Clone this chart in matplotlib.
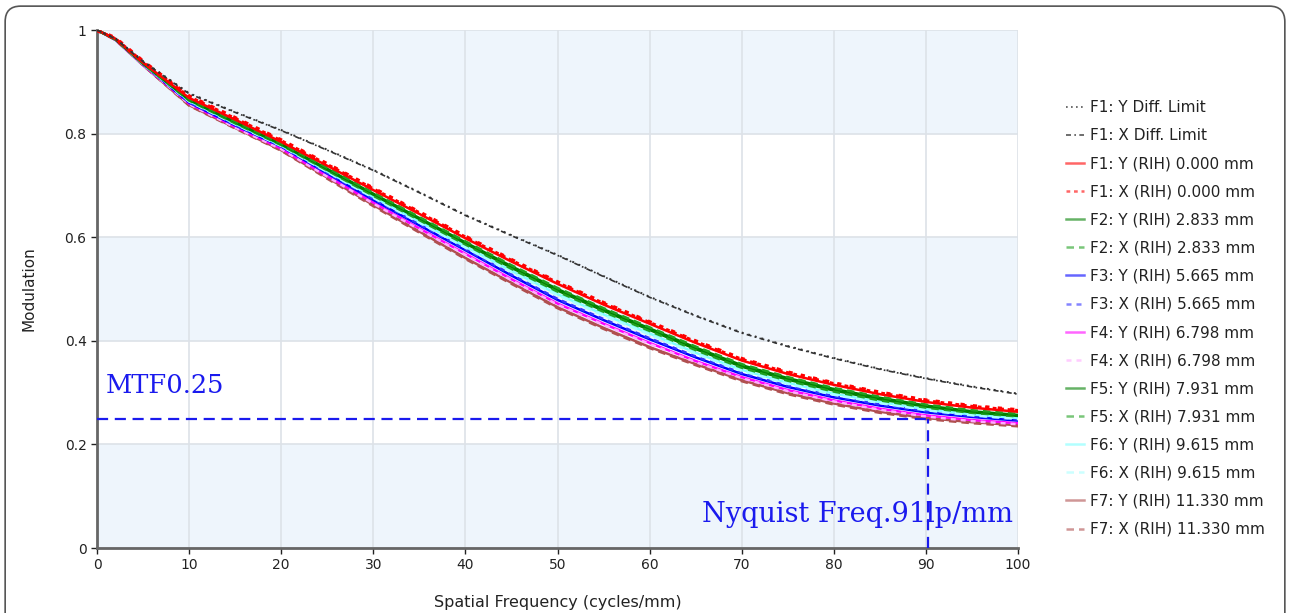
import matplotlib
matplotlib.use("Agg")
import matplotlib.pyplot as plt
from matplotlib.patches import FancyBboxPatch
from matplotlib.lines import Line2D

plt.rcParams["font.family"] = ["DejaVu Sans"]

# spatial frequency samples (cycles/mm)
freq = [0, 2, 5, 10, 15, 20, 25, 30, 35, 40, 45, 50, 55, 60, 65, 70, 75, 80, 85, 90, 95, 100]

diff_y = [1.0, 0.984, 0.940, 0.878, 0.842, 0.807, 0.769, 0.730, 0.687, 0.643, 0.604,
          0.566, 0.525, 0.485, 0.449, 0.416, 0.390, 0.367, 0.346, 0.328, 0.312, 0.298]
diff_x = [1.0, 0.983, 0.939, 0.877, 0.841, 0.806, 0.768, 0.729, 0.686, 0.642, 0.603,
          0.565, 0.524, 0.484, 0.448, 0.415, 0.389, 0.366, 0.345, 0.327, 0.311, 0.297]
f1_y = [1.0, 0.983, 0.937, 0.869, 0.827, 0.784, 0.738, 0.691, 0.645, 0.598, 0.553,
        0.510, 0.470, 0.433, 0.396, 0.362, 0.336, 0.315, 0.297, 0.282, 0.271, 0.263]
f1_x = [1.0, 0.984, 0.939, 0.872, 0.830, 0.787, 0.741, 0.694, 0.648, 0.601, 0.556,
        0.513, 0.473, 0.436, 0.399, 0.365, 0.339, 0.318, 0.300, 0.285, 0.274, 0.266]
f2_y = [1.0, 0.982, 0.936, 0.866, 0.823, 0.780, 0.732, 0.684, 0.637, 0.590, 0.544,
        0.500, 0.461, 0.424, 0.387, 0.353, 0.328, 0.307, 0.290, 0.275, 0.264, 0.257]
f2_x = [1.0, 0.982, 0.936, 0.867, 0.824, 0.781, 0.734, 0.686, 0.639, 0.592, 0.546,
        0.502, 0.463, 0.426, 0.389, 0.355, 0.330, 0.309, 0.292, 0.277, 0.266, 0.259]
f3_y = [1.0, 0.982, 0.934, 0.860, 0.816, 0.775, 0.723, 0.672, 0.623, 0.575, 0.526,
        0.479, 0.440, 0.403, 0.368, 0.336, 0.311, 0.291, 0.275, 0.262, 0.253, 0.246]
f3_x = [1.0, 0.982, 0.934, 0.861, 0.817, 0.776, 0.724, 0.674, 0.625, 0.577, 0.528,
        0.481, 0.442, 0.405, 0.370, 0.338, 0.313, 0.293, 0.277, 0.264, 0.255, 0.248]
f4_y = [1.0, 0.981, 0.933, 0.858, 0.813, 0.771, 0.718, 0.667, 0.617, 0.568, 0.519,
        0.472, 0.433, 0.396, 0.361, 0.330, 0.305, 0.285, 0.269, 0.256, 0.247, 0.241]
f4_x = [1.0, 0.981, 0.933, 0.857, 0.812, 0.770, 0.717, 0.665, 0.615, 0.566, 0.517,
        0.470, 0.431, 0.394, 0.359, 0.328, 0.303, 0.283, 0.267, 0.254, 0.245, 0.239]
f5_y = [1.0, 0.982, 0.935, 0.865, 0.821, 0.779, 0.730, 0.682, 0.635, 0.588, 0.541,
        0.497, 0.458, 0.421, 0.384, 0.350, 0.325, 0.304, 0.287, 0.273, 0.262, 0.255]
f5_x = [1.0, 0.982, 0.935, 0.864, 0.820, 0.778, 0.729, 0.680, 0.633, 0.586, 0.539,
        0.495, 0.456, 0.419, 0.382, 0.348, 0.323, 0.302, 0.285, 0.271, 0.261, 0.254]
f6_y = [1.0, 0.982, 0.935, 0.863, 0.819, 0.777, 0.727, 0.678, 0.630, 0.582, 0.535,
        0.490, 0.451, 0.414, 0.377, 0.344, 0.319, 0.298, 0.282, 0.268, 0.258, 0.251]
f6_x = [1.0, 0.982, 0.934, 0.862, 0.818, 0.776, 0.726, 0.676, 0.628, 0.580, 0.533,
        0.488, 0.449, 0.412, 0.375, 0.342, 0.317, 0.296, 0.280, 0.266, 0.256, 0.249]
f7_y = [1.0, 0.981, 0.932, 0.855, 0.811, 0.768, 0.715, 0.662, 0.611, 0.560, 0.512,
        0.465, 0.425, 0.388, 0.355, 0.324, 0.299, 0.279, 0.263, 0.251, 0.243, 0.237]
f7_x = [1.0, 0.981, 0.932, 0.854, 0.810, 0.767, 0.713, 0.660, 0.609, 0.558, 0.510,
        0.463, 0.423, 0.386, 0.353, 0.322, 0.297, 0.277, 0.261, 0.249, 0.241, 0.235]

labels = ["F1: Y Diff. Limit", "F1: X Diff. Limit",
          "F1: Y (RIH) 0.000 mm", "F1: X (RIH) 0.000 mm",
          "F2: Y (RIH) 2.833 mm", "F2: X (RIH) 2.833 mm",
          "F3: Y (RIH) 5.665 mm", "F3: X (RIH) 5.665 mm",
          "F4: Y (RIH) 6.798 mm", "F4: X (RIH) 6.798 mm",
          "F5: Y (RIH) 7.931 mm", "F5: X (RIH) 7.931 mm",
          "F6: Y (RIH) 9.615 mm", "F6: X (RIH) 9.615 mm",
          "F7: Y (RIH) 11.330 mm", "F7: X (RIH) 11.330 mm"]

mtf_level = 0.25
nyquist = 90.2

fig = plt.figure(figsize=(12.9, 6.13), dpi=100)
frame = FancyBboxPatch((0.004, -0.05), 0.992, 1.04, boxstyle="round,pad=0,rounding_size=0.012",
                       transform=fig.transFigure, facecolor="none", edgecolor="#555555",
                       linewidth=1.2, mutation_aspect=1290 / 613, zorder=10)
fig.patches.append(frame)

ax = fig.add_axes([0.0752, 0.106, 0.7140, 0.845])
ax.set_xlim(0, 100)
ax.set_ylim(0, 1)
ax.set_facecolor("white")

# alternating bands
for lo in [0.0, 0.4, 0.8]:
    ax.axhspan(lo, lo + 0.2, color="#eef5fc", zorder=0, lw=0)
ax.grid(True, color="#dde2e8", linewidth=1.2, zorder=1)
ax.set_axisbelow(True)

# curves (drawn bottom-most first so red sits on top)
series = [
    (f7_y, "#b05050", "-"), (f7_x, "#b05050", (0, (3, 2))),
    (f4_y, "#ff00ff", "-"), (f4_x, "#ffaaff", (0, (2, 2))),
    (f3_y, "#0000ff", "-"), (f3_x, "#3333ff", (0, (2, 2))),
    (f6_y, "#80ffff", "-"), (f6_x, "#aaffff", (0, (3, 2))),
    (f5_y, "#008000", "-"), (f5_x, "#20a020", (0, (3, 2))),
    (f2_y, "#008000", "-"), (f2_x, "#20a020", (0, (3, 2))),
    (f1_y, "#ff0000", "-"), (f1_x, "#ff0000", (0, (1.5, 1.5))),
]
for vals, col, ls in series:
    ax.plot(freq, vals, color=col, linestyle=ls, linewidth=1.8, zorder=3)
ax.plot(freq, f1_x, color="#ff0000", linestyle=(0, (1, 2)), linewidth=3.0, zorder=3)
ax.plot(freq, diff_y, color="#333333", linestyle=(0, (1, 2.5)), linewidth=1.4, zorder=4)
ax.plot(freq, diff_x, color="#333333", linestyle=(0, (3, 2, 1, 2)), linewidth=1.2, zorder=4)

# MTF 0.25 / Nyquist markers
ax.plot([0, nyquist], [mtf_level, mtf_level], color="#1a1aee", linestyle=(0, (5, 3)),
        linewidth=1.6, zorder=5)
ax.plot([nyquist, nyquist], [0, mtf_level], color="#1a1aee", linestyle=(0, (5, 3)),
        linewidth=1.6, zorder=5)
ax.text(0.9, 0.30, "MTF0.25", color="#1a1aee", fontsize=18.5, family="DejaVu Serif",
        ha="left", va="baseline", zorder=6)
ax.text(99.5, 0.05, "Nyquist Freq.91lp/mm", color="#1a1aee", fontsize=19.5,
        family="DejaVu Serif", ha="right", va="baseline", zorder=6)

# axes styling
for s in ["top", "right"]:
    ax.spines[s].set_visible(False)
for s in ["left", "bottom"]:
    ax.spines[s].set_color("#666666")
    ax.spines[s].set_linewidth(2)
ax.set_xticks(range(0, 101, 10))
ax.set_yticks([0, 0.2, 0.4, 0.6, 0.8, 1])
ax.set_yticklabels(["0", "0.2", "0.4", "0.6", "0.8", "1"])
ax.tick_params(colors="#222222", labelsize=10, length=4, width=1, direction="out")
ax.set_xlabel("Spatial Frequency (cycles/mm)", fontsize=11.5, color="#222222", labelpad=16)
ax.set_ylabel("Modulation", fontsize=11, color="#222222", labelpad=20)

# legend
handles = [
    Line2D([], [], color="#555555", linestyle=(0, (1, 2)), linewidth=1.2),
    Line2D([], [], color="#555555", linestyle=(0, (3, 2, 1, 2)), linewidth=1.2),
]
for vals, col, ls in [series[12], series[13], series[10], series[11], series[4], series[5],
                      series[2], series[3], series[8], series[9], series[6], series[7],
                      series[0], series[1]]:
    handles.append(Line2D([], [], color=col, linestyle=ls, linewidth=1.8, alpha=0.6))
leg = fig.legend(handles, labels, loc="upper left", bbox_to_anchor=(0.822, 0.847),
                 frameon=False, fontsize=11, handlelength=1.15, handletextpad=0.4,
                 labelspacing=0.86, borderaxespad=0)
for t in leg.get_texts():
    t.set_color("#222222")

fig.savefig("out.png", dpi=100)
